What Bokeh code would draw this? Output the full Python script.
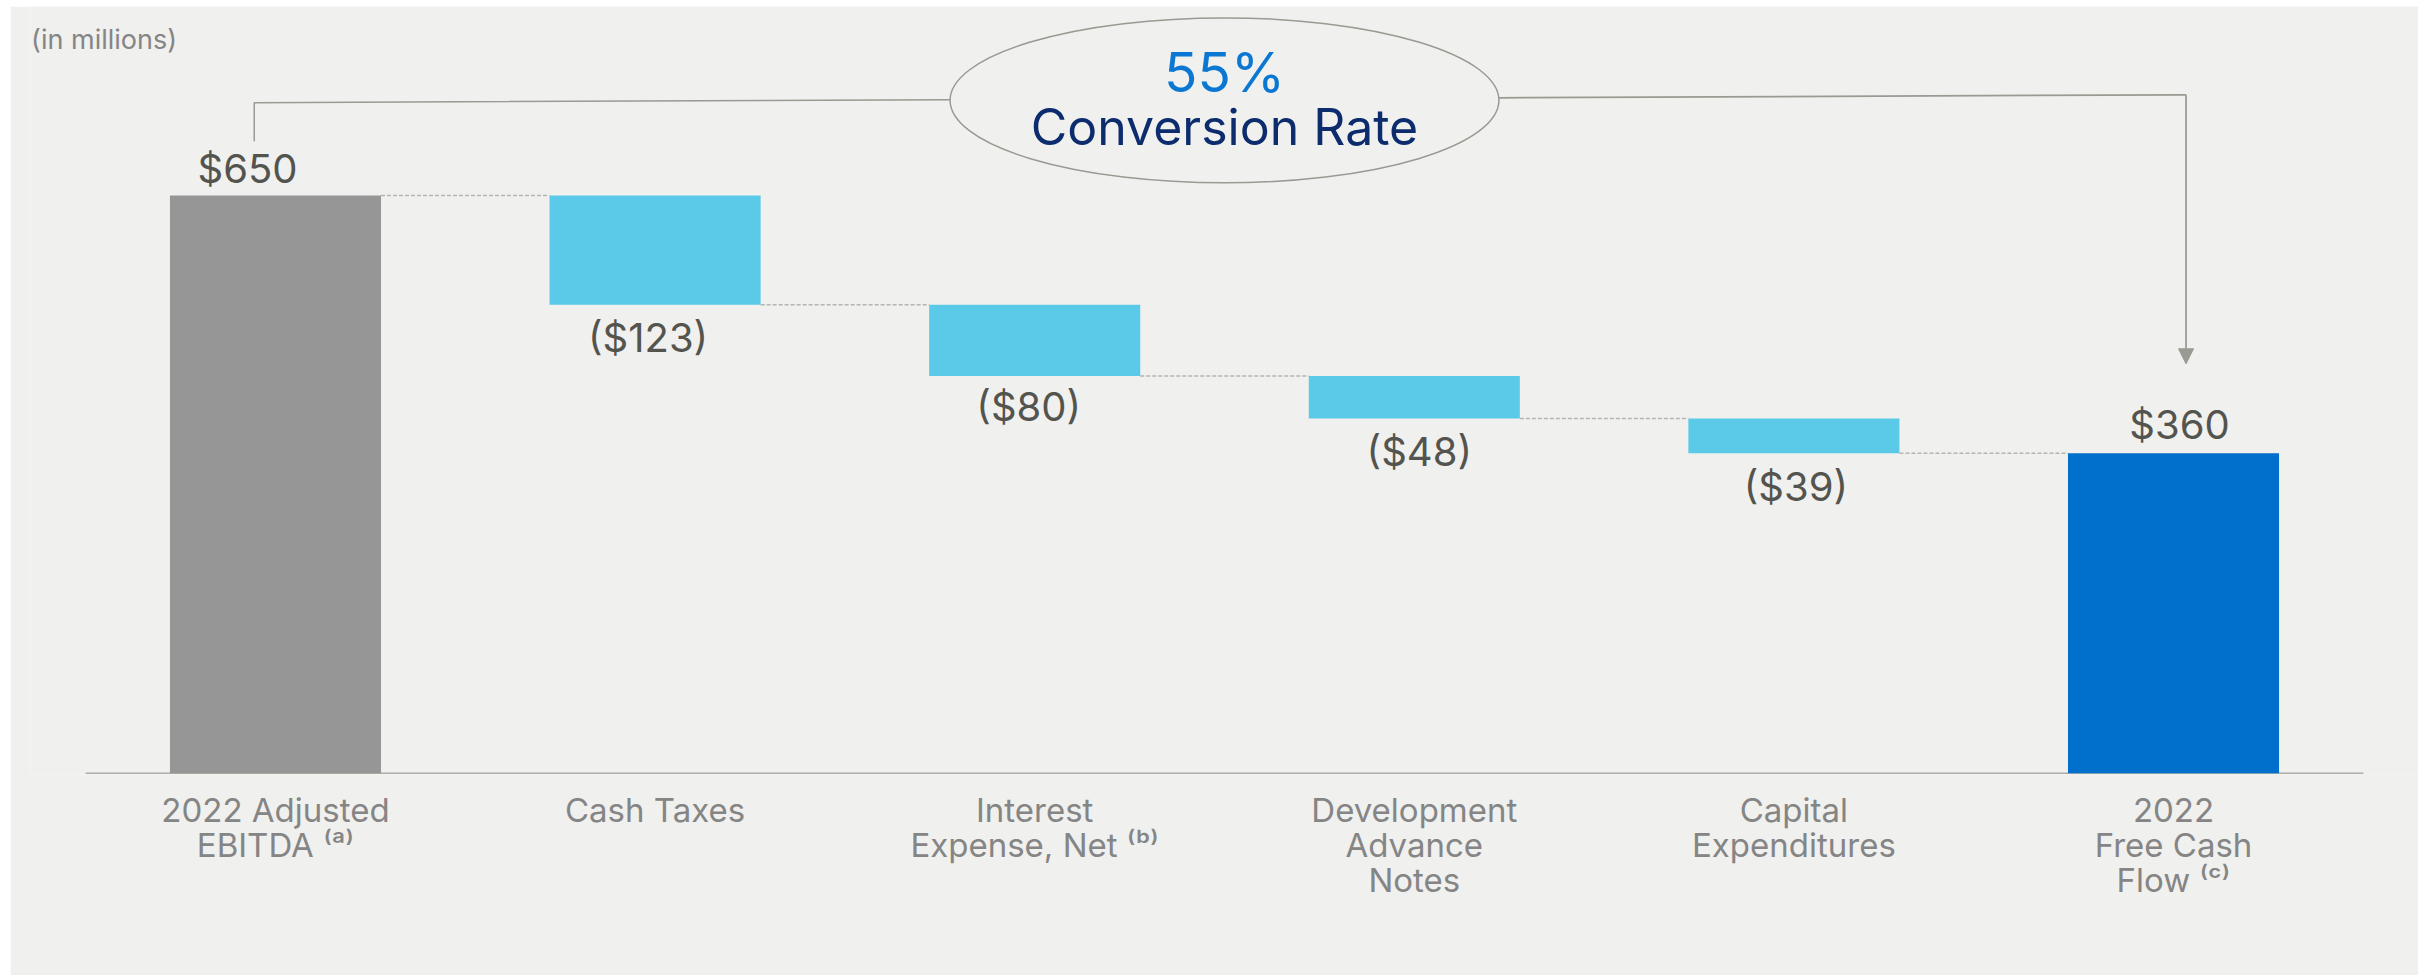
from bokeh.plotting import figure
from bokeh.models import FactorRange, Range1d, Label, Arrow, NormalHead, ColumnDataSource
from bokeh.core.properties import value
from bokeh.embed import file_html
from bokeh.resources import INLINE

# ---------------- data ----------------
categories = [
    "2022 Adjusted\nEBITDA \u207d\u1d43\u207e",
    "Cash Taxes",
    "Interest\nExpense, Net \u207d\u1d47\u207e",
    "Development\nAdvance\nNotes",
    "Capital\nExpenditures",
    "2022\nFree Cash\nFlow \u207d\u1d9c\u207e",
]
values = [650, -123, -80, -48, -39, 360]
is_total = [True, False, False, False, False, True]
value_labels = ["$650", "($123)", "($80)", "($48)", "($39)", "$360"]
subtitle = "(in millions)"
rate_caption = "Conversion Rate"

# ---------------- styles ----------------
BG = "#f0f0ee"
bar_colors = ["#969696", "#5bc9e8", "#5bc9e8", "#5bc9e8", "#5bc9e8", "#0070cc"]
LINE_GRAY = "#9a9a92"
FONT = "Inter"
BAR_W = 0.556
label_x_off = [-28, -7, -6, 5, 2, 6]
label_y_off = [-27, 33, 31, 33, 33, -29]

# ---------------- derived waterfall geometry ----------------
bottoms, tops = [], []
running = 0
for v, t in zip(values, is_total):
    if t:
        bottoms.append(0)
        tops.append(v)
        running = v
    else:
        new = running + v
        bottoms.append(new)
        tops.append(running)
        running = new

rate_text = f"{round(values[-1] / values[0] * 100)}%"
n = len(categories)

p = figure(
    width=2408, height=969,
    x_range=FactorRange(*categories, range_padding=0.1454,
                        range_padding_units="absolute"),
    y_range=Range1d(-1.46, 862.6),
    title=None,
    toolbar_location=None,
    output_backend="svg",
    min_border_left=20, min_border_right=0,
    min_border_top=0, min_border_bottom=201,
)
p.margin = (6, 0, 0, 10)
p.background_fill_color = BG
p.border_fill_color = BG
p.outline_line_color = None
p.xgrid.visible = False
p.ygrid.visible = False
p.yaxis.visible = False

src = ColumnDataSource(dict(
    x=categories, top=tops, bottom=bottoms, color=bar_colors,
    label=value_labels,
    ly=[tp if t else b for tp, b, t in zip(tops, bottoms, is_total)],
    lxo=label_x_off, lyo=label_y_off,
))

# baseline (axis line across the categories)
p.segment(x0=[0], y0=[0], x1=[n], y1=[0], line_color="#aeaea6", line_width=1.5)

p.vbar(x="x", top="top", bottom="bottom", width=BAR_W, color="color",
       line_color=None, source=src)

# connectors (dashed) between consecutive bars at running level
cx0, cx1, cy = [], [], []
for i in range(n - 1):
    lvl = tops[i] if is_total[i] else bottoms[i]
    cx0.append(i + 0.5 + BAR_W / 2)
    cx1.append(i + 1.5 - BAR_W / 2)
    cy.append(lvl)
p.segment(x0=cx0, y0=cy, x1=cx1, y1=cy, line_color="#b4b4b0",
          line_width=1.5, line_dash="4 2")

# value labels
p.text(x="x", y="ly", text="label", source=src,
       x_offset="lxo", y_offset="lyo",
       text_align="center", text_baseline="alphabetic",
       text_font=value(FONT), text_font_size="40px", text_color="#54544e")

# axis
ax = p.xaxis[0]
ax.axis_line_color = None
ax.major_tick_line_color = None
ax.minor_tick_line_color = None
ax.major_label_text_font = FONT
ax.major_label_text_font_size = "33px"
ax.major_label_text_color = "#858585"
ax.major_label_text_line_height = 0.88
ax.major_label_standoff = 9

# conversion ellipse + bracket
ecx, ecy = n / 2, 757.0
ew, eh = 1.446, 185.6
p.ellipse(x=[ecx], y=[ecy], width=[ew], height=[eh], fill_color=None,
          line_color=LINE_GRAY, line_width=1.5)

left_x = 0.444
right_x = 5.533
p.line(x=[left_x, left_x, ecx - ew / 2], y=[711.0, 754.4, 757.7],
       line_color=LINE_GRAY, line_width=1.5)
p.line(x=[ecx + ew / 2, right_x], y=[759.9, 763.3],
       line_color=LINE_GRAY, line_width=1.75)
p.add_layout(Arrow(end=NormalHead(size=15, fill_color=LINE_GRAY, line_color=LINE_GRAY),
                   x_start=right_x, y_start=763.3, x_end=right_x, y_end=460.6,
                   line_color=LINE_GRAY, line_width=1.75))

p.text(x=[ecx], y=[768.1], text=[rate_text], text_align="center",
       text_baseline="alphabetic", text_font=value(FONT), y_offset=-18,
       text_font_size="55px", text_color="#0a78d2")
p.text(x=[ecx], y=[708.1], text=[rate_caption], text_align="center",
       text_baseline="alphabetic", text_font=value(FONT), y_offset=-17,
       text_font_size="50px", text_color="#0c2c6e")

p.add_layout(Label(x=-0.1438, y=826, text=subtitle, text_font=FONT,
                   text_font_size="27px", text_color="#858585",
                   text_baseline="alphabetic", text_align="left"))

html = file_html(p, INLINE)
open("out.html", "w").write(html)
